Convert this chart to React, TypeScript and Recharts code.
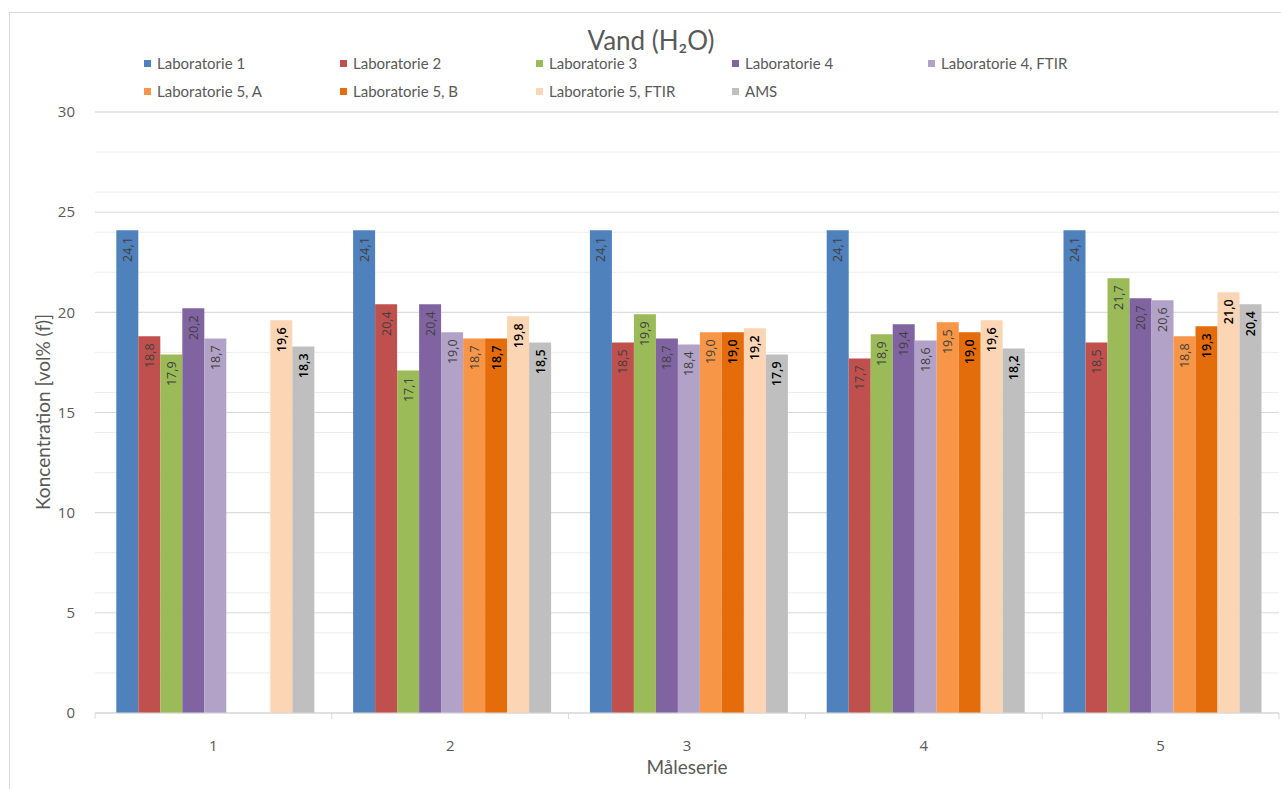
import React from 'react';
import { BarChart, Bar, XAxis, YAxis, CartesianGrid, LabelList } from 'recharts';

document.body.style.margin = '0';

// Måleserier og målte koncentrationer (vol% (f)) pr. laboratorium
const serier = ['1', '2', '3', '4', '5'];
const lab1 = [24.1, 24.1, 24.1, 24.1, 24.1];
const lab2 = [18.8, 20.4, 18.5, 17.7, 18.5];
const lab3 = [17.9, 17.1, 19.9, 18.9, 21.7];
const lab4 = [20.2, 20.4, 18.7, 19.4, 20.7];
const lab4Ftir = [18.7, 19.0, 18.4, 18.6, 20.6];
const lab5A = [null, 18.7, 19.0, 19.5, 18.8];
const lab5B = [null, 18.7, 19.0, 19.0, 19.3];
const lab5Ftir = [19.6, 19.8, 19.2, 19.6, 21.0];
const ams = [18.3, 18.5, 17.9, 18.2, 20.4];

const yTicks = [0, 5, 10, 15, 20, 25, 30];
const minorTicks = Array.from({ length: 31 }, (_, i) => i);

const laboratorier = [
  { key: 'lab1', navn: 'Laboratorie 1', farve: '#4F81BD', tekst: '#404040', fed: false, data: lab1 },
  { key: 'lab2', navn: 'Laboratorie 2', farve: '#C0504D', tekst: '#404040', fed: false, data: lab2 },
  { key: 'lab3', navn: 'Laboratorie 3', farve: '#9BBB59', tekst: '#404040', fed: false, data: lab3 },
  { key: 'lab4', navn: 'Laboratorie 4', farve: '#8064A2', tekst: '#404040', fed: false, data: lab4 },
  { key: 'lab4Ftir', navn: 'Laboratorie 4, FTIR', farve: '#B3A2C7', tekst: '#404040', fed: false, data: lab4Ftir },
  { key: 'lab5A', navn: 'Laboratorie 5, A', farve: '#F79646', tekst: '#404040', fed: false, data: lab5A },
  { key: 'lab5B', navn: 'Laboratorie 5, B', farve: '#E46C0A', tekst: '#000000', fed: true, data: lab5B },
  { key: 'lab5Ftir', navn: 'Laboratorie 5, FTIR', farve: '#FCD5B5', tekst: '#000000', fed: true, data: lab5Ftir },
  { key: 'ams', navn: 'AMS', farve: '#BFBFBF', tekst: '#000000', fed: true, data: ams },
];

const rows = serier.map((serie, i) => {
  const row: Record<string, any> = { serie };
  laboratorier.forEach((l) => {
    row[l.key] = l.data[i];
  });
  return row;
});

const CHART_W = 1281;
const CHART_H = 789;
const MARGIN = { top: 112, right: 2, left: 35, bottom: 36 };
const Y_AXIS_W = 60;
const X_AXIS_H = 40;
const PLOT_W = CHART_W - MARGIN.left - Y_AXIS_W - MARGIN.right;
const BAND = PLOT_W / serier.length;

const GREY_TEXT = '#595959';
const AXIS_COLOR = '#D9D9D9';
const FONT = 'Lato, "Open Sans", sans-serif';

const fmt = (v: number) => v.toFixed(1).replace('.', ',');

const SerieTick = (props: any) => {
  const { x, y, payload, index } = props;
  const half = BAND / 2;
  return (
    <g>
      <line x1={x - half} x2={x - half} y1={y} y2={y + 6} stroke={AXIS_COLOR} />
      {index === serier.length - 1 && (
        <line x1={x + half} x2={x + half} y1={y} y2={y + 6} stroke={AXIS_COLOR} />
      )}
      <text x={x} y={y + 38} textAnchor="middle" fill={GREY_TEXT} fontSize={15} fontFamily='"Open Sans", sans-serif'>
        {payload.value}
      </text>
    </g>
  );
};

const makeLabel = (color: string, bold: boolean) => (props: any) => {
  const { x, y, width, value } = props;
  if (value == null) return null;
  const cx = Number(x) + Number(width) / 2;
  const ty = Number(y) + 7;
  return (
    <text
      x={cx}
      y={ty}
      transform={`rotate(-90 ${cx} ${ty})`}
      textAnchor="end"
      dominantBaseline="central"
      fill={color}
      fontSize={12.5}
      fontWeight={bold ? 600 : 400}
      fontFamily='"Open Sans", sans-serif'
    >
      {fmt(Number(value))}
    </text>
  );
};

const Legend = () => (
  <div style={{ position: 'absolute', left: 144, top: 54, width: 1000 }}>
    {laboratorier.map((l, i) => (
      <div
        key={l.key}
        style={{
          position: 'absolute',
          left: (i % 5) * 196,
          top: Math.floor(i / 5) * 28,
          display: 'flex',
          alignItems: 'center',
          height: 18,
          whiteSpace: 'nowrap',
          fontFamily: FONT,
          fontSize: 15,
          color: GREY_TEXT,
        }}
      >
        <span style={{ width: 7, height: 7, background: l.farve, marginRight: 6, display: 'inline-block' }} />
        {l.navn}
      </div>
    ))}
  </div>
);

export default function App() {
  return (
    <div style={{ position: 'relative', width: CHART_W, height: CHART_H, background: '#fff', overflow: 'hidden' }}>
      <div
        style={{
          position: 'absolute',
          left: 9,
          top: 12,
          width: CHART_W,
          height: CHART_H,
          borderLeft: `1px solid ${AXIS_COLOR}`,
          borderTop: `1px solid ${AXIS_COLOR}`,
        }}
      />
      <BarChart
        width={CHART_W}
        height={CHART_H}
        data={rows}
        margin={MARGIN}
        barCategoryGap="9%"
        barGap={0}
      >
        {/* fine hjælpelinjer for hver enhed, kraftigere for hver 5. */}
        <CartesianGrid vertical={false} stroke="#EDEDED" horizontalValues={minorTicks} />
        <CartesianGrid vertical={false} stroke={AXIS_COLOR} horizontalValues={yTicks} />
        <XAxis
          dataKey="serie"
          height={X_AXIS_H}
          axisLine={{ stroke: AXIS_COLOR }}
          tickLine={false}
          tickSize={0}
          tickMargin={0}
          tick={<SerieTick />}
          interval={0}
        />
        <YAxis
          width={Y_AXIS_W}
          domain={[0, 30]}
          ticks={yTicks}
          axisLine={false}
          tickLine={false}
          tickSize={0}
          tickMargin={20}
          tick={{ fill: GREY_TEXT, fontSize: 15, fontFamily: '"Open Sans", sans-serif' }}
        />
        {laboratorier.map((l) => (
          <Bar key={l.key} dataKey={l.key} name={l.navn} fill={l.farve} isAnimationActive={false}>
            <LabelList dataKey={l.key} content={makeLabel(l.tekst, l.fed)} />
          </Bar>
        ))}
      </BarChart>

      <div
        style={{
          position: 'absolute',
          left: 0,
          width: 1302,
          top: 24,
          textAlign: 'center',
          fontFamily: FONT,
          fontSize: 26,
          color: GREY_TEXT,
        }}
      >
        Vand (H₂O)
      </div>
      <Legend />
      <div
        style={{
          position: 'absolute',
          left: 42,
          top: 412,
          transform: 'translate(-50%, -50%) rotate(-90deg)',
          whiteSpace: 'nowrap',
          fontFamily: FONT,
          fontSize: 19,
          color: GREY_TEXT,
        }}
      >
        Koncentration [vol% (f)]
      </div>
      <div
        style={{
          position: 'absolute',
          left: 95,
          width: 1184,
          top: 755,
          textAlign: 'center',
          fontFamily: FONT,
          fontSize: 19,
          color: GREY_TEXT,
        }}
      >
        Måleserie
      </div>
    </div>
  );
}
